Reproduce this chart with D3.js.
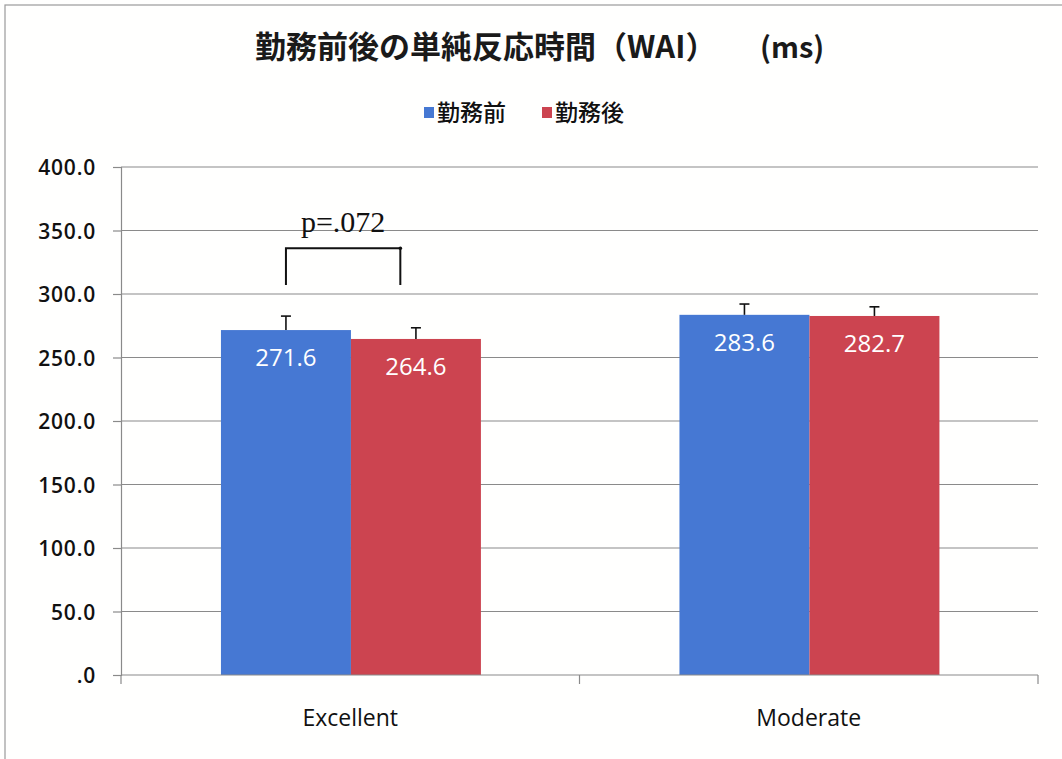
<!DOCTYPE html>
<html>
<head>
<meta charset="utf-8">
<script src="https://cdn.jsdelivr.net/npm/d3@7"></script>
<style>
  html, body { margin: 0; padding: 0; background: #ffffff; }
  svg { display: block; }
</style>
</head>
<body>
<svg id="chart" width="1062" height="759"></svg>
<script>
// ---- data ----
const categories = ["Excellent", "Moderate"];
const seriesNames = ["勤務前", "勤務後"];
const seriesColors = ["#4678d3", "#cc4450"];
const before = [271.6, 283.6];
const after = [264.6, 282.7];
const beforeErr = [11.0, 8.5];
const afterErr = [8.8, 7.2];
const yTicks = [0, 50, 100, 150, 200, 250, 300, 350, 400];
const titleMain = "勤務前後の単純反応時間（WAI）";
const titleUnit = "(ms)";
const pLabel = "p=.072";
const bracketTop = 336;
const bracketBottom = 307;

(function () {
const svg = d3.select("#chart");
const W = 1062, H = 759;

// frame
svg.append("rect").attr("x", 0).attr("y", 0).attr("width", W).attr("height", H).attr("fill", "#fffffe");
svg.append("rect").attr("x", 5).attr("y", 5).attr("width", W + 20).attr("height", H + 20)
  .attr("fill", "none").attr("stroke", "#9a9a9a").attr("stroke-width", 1.2);

const pLeft = 121, pRight = 1038, pTop = 167, pBottom = 675;

const y = d3.scaleLinear().domain([0, 400]).range([pBottom, pTop]);
const x = d3.scaleBand().domain(categories).range([pLeft, pRight]).padding(0);
const bw = x.bandwidth();
const xs = d3.scaleBand().domain(seriesNames).range([bw * 0.218, bw * 0.785]).padding(0);

// gridlines
svg.append("g").selectAll("line").data(yTicks.filter(d => d > 0)).join("line")
  .attr("x1", pLeft).attr("x2", pRight)
  .attr("y1", d => y(d)).attr("y2", d => y(d))
  .attr("stroke", "#8a8a8a").attr("stroke-width", 1.2);

// y axis
const yAxis = d3.axisLeft(y).tickValues(yTicks).tickSize(8).tickPadding(17)
  .tickFormat(d => d === 0 ? ".0" : d3.format(".1f")(d));
const gy = svg.append("g").attr("transform", `translate(${pLeft},0)`).call(yAxis);
gy.select(".domain").attr("stroke", "#8a8a8a").attr("stroke-width", 1.2);
gy.selectAll(".tick line").attr("stroke", "#8a8a8a").attr("stroke-width", 1.2);
gy.selectAll(".tick text").attr("font-family", "Open Sans").attr("font-weight", 600)
  .attr("font-size", 21).attr("letter-spacing", 0.8)
  .attr("fill", "#111").attr("dy", "0.36em");

// bars
const data = categories.map((c, i) => [
  { cat: c, s: seriesNames[0], v: before[i], e: beforeErr[i], color: seriesColors[0] },
  { cat: c, s: seriesNames[1], v: after[i], e: afterErr[i], color: seriesColors[1] }
]).flat();

const gBars = svg.append("g");
gBars.selectAll("rect").data(data).join("rect")
  .attr("x", d => x(d.cat) + xs(d.s))
  .attr("y", d => y(d.v))
  .attr("width", xs.bandwidth())
  .attr("height", d => y(0) - y(d.v))
  .attr("fill", d => d.color);

// error bars
const gErr = svg.append("g").attr("stroke", "#111").attr("stroke-width", 1.6);
data.forEach(d => {
  const cx = x(d.cat) + xs(d.s) + xs.bandwidth() / 2;
  gErr.append("line").attr("x1", cx).attr("x2", cx).attr("y1", y(d.v)).attr("y2", y(d.v + d.e));
  gErr.append("line").attr("x1", cx - 5).attr("x2", cx + 5).attr("y1", y(d.v + d.e)).attr("y2", y(d.v + d.e));
});

// value labels
svg.append("g").selectAll("text").data(data).join("text")
  .attr("x", d => x(d.cat) + xs(d.s) + xs.bandwidth() / 2)
  .attr("y", d => y(d.v) + 36)
  .attr("text-anchor", "middle")
  .attr("font-family", "Open Sans").attr("font-size", 24)
  .attr("fill", "#ffffff")
  .text(d => d.v.toFixed(1));

// x axis
svg.append("line").attr("x1", pLeft).attr("x2", pRight).attr("y1", pBottom).attr("y2", pBottom)
  .attr("stroke", "#8a8a8a").attr("stroke-width", 1.2);
const catEdges = [pLeft, ...categories.map(c => x(c) + bw)];
svg.append("g").selectAll("line").data(catEdges).join("line")
  .attr("x1", d => d).attr("x2", d => d).attr("y1", pBottom).attr("y2", pBottom + 9)
  .attr("stroke", "#8a8a8a").attr("stroke-width", 1.2);
svg.append("g").selectAll("text").data(categories).join("text")
  .attr("x", d => x(d) + bw / 2)
  .attr("y", 726)
  .attr("text-anchor", "middle")
  .attr("font-family", "Open Sans").attr("font-weight", 500).attr("font-size", 23)
  .attr("fill", "#111")
  .text(d => d);

// title
svg.append("text").attr("x", 255).attr("y", 58)
  .attr("font-family", "Noto Sans CJK JP").attr("font-weight", "bold").attr("font-size", 31)
  .attr("fill", "#1a1a1a").text(titleMain);
svg.append("text").attr("x", 760).attr("y", 58)
  .attr("font-family", "Noto Sans CJK JP").attr("font-weight", "bold").attr("font-size", 29)
  .attr("fill", "#1a1a1a").text(titleUnit);

// legend
const legendX = [424, 542];
const gLeg = svg.append("g");
seriesNames.forEach((s, i) => {
  gLeg.append("rect").attr("x", legendX[i]).attr("y", 107).attr("width", 10).attr("height", 11)
    .attr("fill", seriesColors[i]);
  gLeg.append("text").attr("x", legendX[i] + 13).attr("y", 121)
    .attr("font-family", "Noto Sans CJK JP").attr("font-weight", 500).attr("font-size", 23)
    .attr("fill", "#111").text(s);
});

// significance bracket
const c0 = categories[0];
const bx1 = x(c0) + xs(seriesNames[0]) + xs.bandwidth() / 2;
const bx2 = x(c0) + xs(seriesNames[1]) + xs.bandwidth() * 0.38;
svg.append("path")
  .attr("d", `M${bx1},${y(bracketBottom)} V${y(bracketTop)} H${bx2} V${y(bracketBottom)}`)
  .attr("fill", "none").attr("stroke", "#111").attr("stroke-width", 2);
svg.append("circle").attr("cx", bx2).attr("cy", y(bracketTop)).attr("r", 1.8).attr("fill", "#111");
svg.append("text").attr("x", (bx1 + bx2) / 2).attr("y", 232)
  .attr("text-anchor", "middle")
  .attr("font-family", "Liberation Serif").attr("font-size", 30)
  .attr("fill", "#111").text(pLabel);
})();
</script>
</body>
</html>
